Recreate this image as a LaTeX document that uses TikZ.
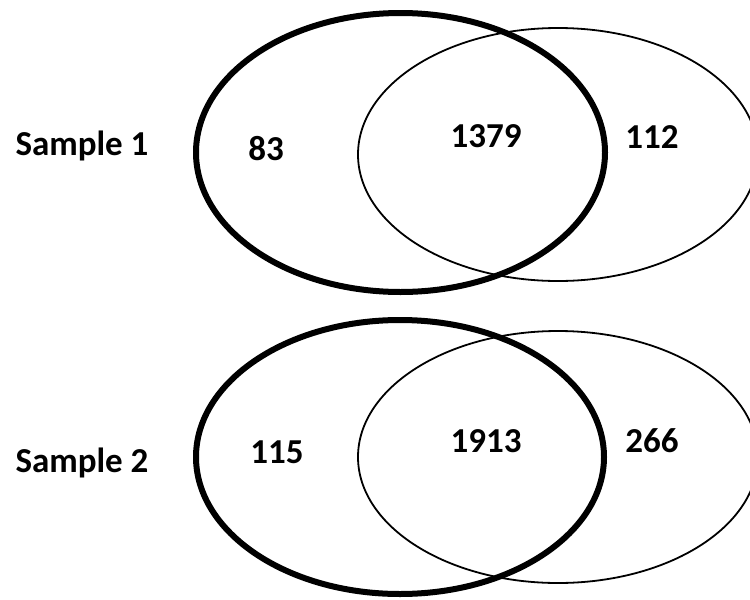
\documentclass[tikz,border=0pt]{standalone}
\usepackage{fontspec}
\setmainfont{Carlito}
\begin{document}
\begin{tikzpicture}[x=1pt,y=-1pt,
  thickset/.style={line width=6pt},
  thinset/.style={line width=1.8pt},
  lbl/.style={font=\fontsize{35}{38}\selectfont\bfseries, inner sep=0pt, anchor=base}]
\useasboundingbox (0,0) rectangle (750,600);
\clip (0,0) rectangle (750,600);
% top pair
\draw[thickset] (400.5,152.5) ellipse [x radius=204.5, y radius=139.5];
\draw[thinset] (558,154.5) ellipse [x radius=200, y radius=126.5];
% bottom pair
\draw[thickset] (400,457) ellipse [x radius=204, y radius=137];
\draw[thinset] (558,457) ellipse [x radius=200, y radius=126];
% labels
\node[lbl] (s1) at (82,155) {Sample 1};
\node[lbl] (a1) at (266,160) {83};
\node[lbl] (b1) at (486,147) {1379};
\node[lbl] (c1) at (652,148) {112};
\node[lbl] (s2) at (82,472) {Sample 2};
\node[lbl] (a2) at (277,463) {115};
\node[lbl] (b2) at (486,452) {1913};
\node[lbl] (c2) at (652,452) {266};
\end{tikzpicture}
\end{document}
